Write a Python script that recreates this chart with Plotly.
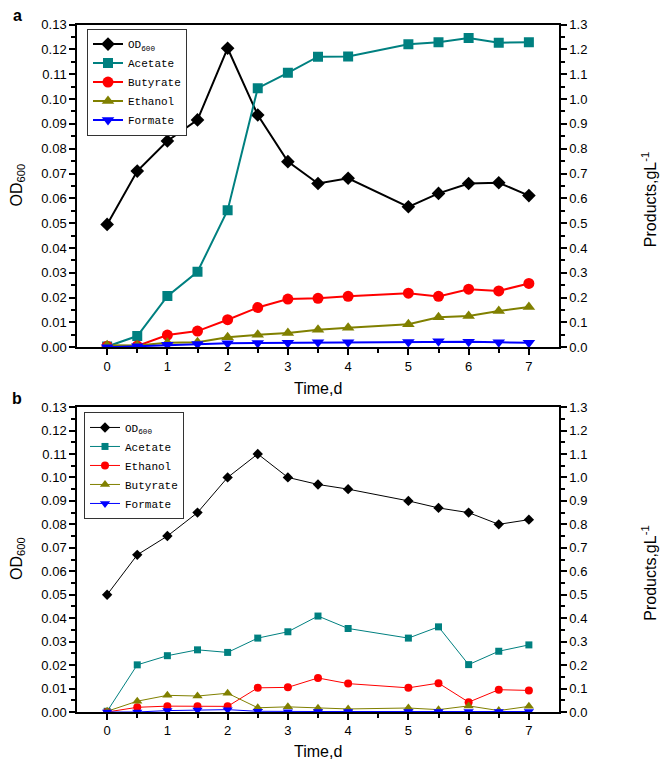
import plotly.graph_objects as go

time_a = [0, 0.5, 1, 1.5, 2, 2.5, 3, 3.5, 4, 5, 5.5, 6, 6.5, 7]
od_a = [0.0495, 0.0710, 0.0831, 0.0916, 0.1205, 0.0936, 0.0748, 0.0660, 0.0681, 0.0566, 0.0620, 0.0660, 0.0663, 0.0611]
acetate_a = [0.003, 0.045, 0.206, 0.304, 0.552, 1.044, 1.106, 1.171, 1.172, 1.221, 1.229, 1.246, 1.227, 1.229]
butyrate_a = [0.004, 0.005, 0.049, 0.065, 0.111, 0.160, 0.194, 0.197, 0.205, 0.218, 0.205, 0.234, 0.227, 0.257]
ethanol_a = [0.008, 0.007, 0.018, 0.020, 0.040, 0.050, 0.057, 0.070, 0.079, 0.093, 0.121, 0.126, 0.146, 0.162]
formate_a = [0.0, 0.004, 0.010, 0.013, 0.016, 0.017, 0.018, 0.020, 0.020, 0.021, 0.024, 0.022, 0.020, 0.018]

time_b = [0, 0.5, 1, 1.5, 2, 2.5, 3, 3.5, 4, 5, 5.5, 6, 6.5, 7]
od_b = [0.050, 0.067, 0.075, 0.085, 0.100, 0.110, 0.100, 0.097, 0.095, 0.090, 0.087, 0.085, 0.080, 0.082]
acetate_b = [0.003, 0.201, 0.240, 0.265, 0.254, 0.315, 0.342, 0.409, 0.356, 0.315, 0.363, 0.202, 0.259, 0.286]
ethanol_b = [0.0, 0.020, 0.025, 0.024, 0.024, 0.103, 0.105, 0.145, 0.121, 0.103, 0.123, 0.042, 0.095, 0.092]
butyrate_b = [0.003, 0.046, 0.071, 0.068, 0.080, 0.018, 0.022, 0.016, 0.013, 0.017, 0.010, 0.026, 0.006, 0.024]
formate_b = [0.0, 0.0, 0.006, 0.008, 0.010, 0.003, 0.001, 0.002, 0.002, 0.002, 0.002, 0.002, 0.002, 0.002]

od_ticks = [i / 100 for i in range(14)]
prod_ticks = [i / 10 for i in range(14)]
time_ticks = [0, 1, 2, 3, 4, 5, 6, 7]
time_minor = [0.5, 1.5, 2.5, 3.5, 4.5, 5.5, 6.5]

BLACK = "#000000"
TEAL = "#008080"
RED = "#FF0000"
OLIVE = "#808000"
BLUE = "#0000FF"

fig = go.Figure()

def add(x, y, name, color, symbol, size, lw, xa, ya, legend):
    fig.add_trace(go.Scatter(
        x=x, y=y, name=name, mode="lines+markers",
        line=dict(color=color, width=lw),
        marker=dict(color=color, symbol=symbol, size=size,
                    line=dict(width=0)),
        xaxis=xa, yaxis=ya, legend=legend))

# panel a
add(time_a, od_a, "OD<sub>600</sub>", BLACK, "diamond", 10.5, 2, "x", "y", "legend")
add(time_a, acetate_a, "Acetate", TEAL, "square", 10, 2, "x", "y2", "legend")
add(time_a, butyrate_a, "Butyrate", RED, "circle", 11, 2, "x", "y2", "legend")
add(time_a, ethanol_a, "Ethanol", OLIVE, "triangle-up", 11, 2, "x", "y2", "legend")
add(time_a, formate_a, "Formate", BLUE, "triangle-down", 11, 2, "x", "y2", "legend")

# panel b
add(time_b, od_b, "OD<sub>600</sub>", BLACK, "diamond", 8, 1, "x2", "y3", "legend2")
add(time_b, acetate_b, "Acetate", TEAL, "square", 7, 1, "x2", "y4", "legend2")
add(time_b, ethanol_b, "Ethanol", RED, "circle", 8, 1, "x2", "y4", "legend2")
add(time_b, butyrate_b, "Butyrate", OLIVE, "triangle-up", 9, 1, "x2", "y4", "legend2")
add(time_b, formate_b, "Formate", BLUE, "triangle-down", 9, 1, "x2", "y4", "legend2")

W, H = 662, 770
xdom = [77 / W, 559 / W]
ydom_a = [1 - 347 / H, 1 - 18 / H]
ydom_b = [1 - 719 / H, 1 - 408 / H]

tickfont = dict(family="Liberation Sans, Arial", size=13, color="#000000")

def xaxis(anchor):
    return dict(domain=xdom, anchor=anchor, range=[-0.5, 7.5],
                tickvals=time_ticks, ticks="outside", ticklen=6, tickwidth=1.5,
                tickcolor="black", showline=True, linecolor="black", linewidth=1.5,
                mirror=True, showgrid=False, zeroline=False, tickfont=tickfont,
                minor=dict(tickvals=time_minor, ticks="outside", ticklen=4,
                           tickcolor="black"))

def yleft(dom, anchor):
    return dict(domain=dom, anchor=anchor, range=[0, 0.13], tickvals=od_ticks,
                tickformat=".2f", ticks="outside", ticklen=6, tickwidth=1.5,
                tickcolor="black", showline=True, linecolor="black", linewidth=1.5,
                showgrid=False, zeroline=False, tickfont=tickfont,
                minor=dict(dtick=0.005, ticks="outside", ticklen=4, tickcolor="black"))

def yright(dom, anchor, overlay):
    return dict(domain=dom, anchor=anchor, overlaying=overlay, side="right",
                range=[0, 1.3], tickvals=prod_ticks, tickformat=".1f",
                ticks="outside", ticklen=6, tickwidth=1.5, tickcolor="black",
                showline=True, linecolor="black", linewidth=1.5,
                showgrid=False, zeroline=False, tickfont=tickfont,
                minor=dict(dtick=0.05, ticks="outside", ticklen=4, tickcolor="black"))

legfont = dict(family="Liberation Mono, monospace", size=11, color="#000000")

fig.update_layout(
    width=W, height=H,
    margin=dict(l=0, r=0, t=0, b=0),
    paper_bgcolor="white", plot_bgcolor="white",
    xaxis=xaxis("y"),
    xaxis2=xaxis("y3"),
    yaxis=yleft(ydom_a, "x"),
    yaxis2=yright(ydom_a, "x", "y"),
    yaxis3=yleft(ydom_b, "x2"),
    yaxis4=yright(ydom_b, "x2", "y3"),
    legend=dict(x=87 / W, y=1 - 22 / H, xanchor="left", yanchor="top",
                bordercolor="#333333", borderwidth=1, bgcolor="white",
                font=legfont, tracegroupgap=0, itemwidth=30),
    legend2=dict(x=84 / W, y=1 - 413 / H, xanchor="left", yanchor="top",
                 bordercolor="#333333", borderwidth=1, bgcolor="white",
                 font=legfont, tracegroupgap=0, itemwidth=30),
    showlegend=True,
)

title_font = dict(family="Liberation Sans, Arial", size=16, color="#000000")
annots = [
    dict(text="<b>a</b>", x=17, y=9),
    dict(text="<b>b</b>", x=17, y=399),
    dict(text="Time,d", x=318, y=389),
    dict(text="Time,d", x=318, y=759),
    dict(text="OD<sub>600</sub>", x=17, y=182, textangle=-90),
    dict(text="OD<sub>600</sub>", x=17, y=563, textangle=-90),
    dict(text="Products,gL<sup>-1</sup>", x=649, y=197, textangle=-90),
    dict(text="Products,gL<sup>-1</sup>", x=649, y=578, textangle=-90),
]
for a in annots:
    fig.add_annotation(text=a["text"], x=a["x"] / W, y=1 - a["y"] / H,
                       xref="paper", yref="paper", showarrow=False,
                       textangle=a.get("textangle", 0), font=title_font,
                       xanchor="center", yanchor="middle")

fig.write_html("out.html",
               config={"displayModeBar": False},
               post_script="document.body.style.margin='0';"
                           "document.body.style.overflow='hidden';")
